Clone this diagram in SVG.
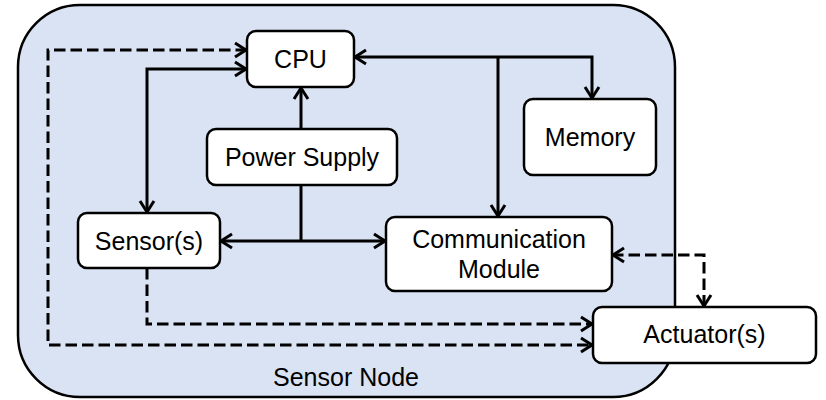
<svg xmlns="http://www.w3.org/2000/svg" width="826" height="400" viewBox="0 0 826 400">
<style>
.node rect{fill:#fff;stroke:#000;stroke-width:2.5}
text{font-family:"Liberation Sans",Arial,sans-serif;font-size:25px;fill:#000;text-anchor:middle}
.c{fill:none;stroke:#000;stroke-width:3}
.d{stroke-dasharray:11.5 5}
</style>
<defs>
<marker id="a" markerUnits="userSpaceOnUse" markerWidth="18" markerHeight="18" viewBox="0 0 18 18" refX="15" refY="9" orient="auto-start-reverse">
<path d="M3,2 L14,9 L3,16" fill="none" stroke="#000" stroke-width="3"/>
</marker>
</defs>
<g id="container">
<rect x="18" y="5" width="657" height="392" rx="62" fill="#dae3f3" stroke="#000" stroke-width="2.5"/>
<text x="346" y="386">Sensor Node</text>
</g>
<g id="connectors">
<path class="c d" d="M247,50 H48 V345 H593" marker-start="url(#a)" marker-end="url(#a)"/>
<path class="c" d="M247,69 H147 V213" marker-start="url(#a)" marker-end="url(#a)"/>
<path class="c" d="M301,129 V87" marker-end="url(#a)"/>
<path class="c" d="M301,185 V241"/>
<path class="c" d="M301,241 H220" marker-end="url(#a)"/>
<path class="c" d="M301,241 H386" marker-end="url(#a)"/>
<path class="c" d="M354,57 H592 V99" marker-start="url(#a)" marker-end="url(#a)"/>
<path class="c" d="M498,57 V217" marker-end="url(#a)"/>
<path class="c d" d="M147,268 V324 H593" marker-end="url(#a)"/>
<path class="c d" d="M612,255 H704 V307" marker-start="url(#a)" marker-end="url(#a)"/>
</g>
<g id="cpu" class="node"><rect x="247" y="31" width="107" height="56" rx="9"/><text x="300.5" y="68">CPU</text></g>
<g id="power" class="node"><rect x="207" y="129" width="190" height="56" rx="9"/><text x="302" y="166">Power Supply</text></g>
<g id="memory" class="node"><rect x="524" y="99" width="132" height="76" rx="9"/><text x="590" y="146">Memory</text></g>
<g id="sensor" class="node"><rect x="78" y="213" width="142" height="55" rx="9"/><text x="149" y="250">Sensor(s)</text></g>
<g id="comm" class="node"><rect x="386" y="217" width="226" height="74" rx="9"/><text x="499" y="248">Communication</text><text x="499" y="278">Module</text></g>
<g id="actuator" class="node"><rect x="593" y="307" width="223" height="56" rx="9"/><text x="704.5" y="343">Actuator(s)</text></g>
</svg>
